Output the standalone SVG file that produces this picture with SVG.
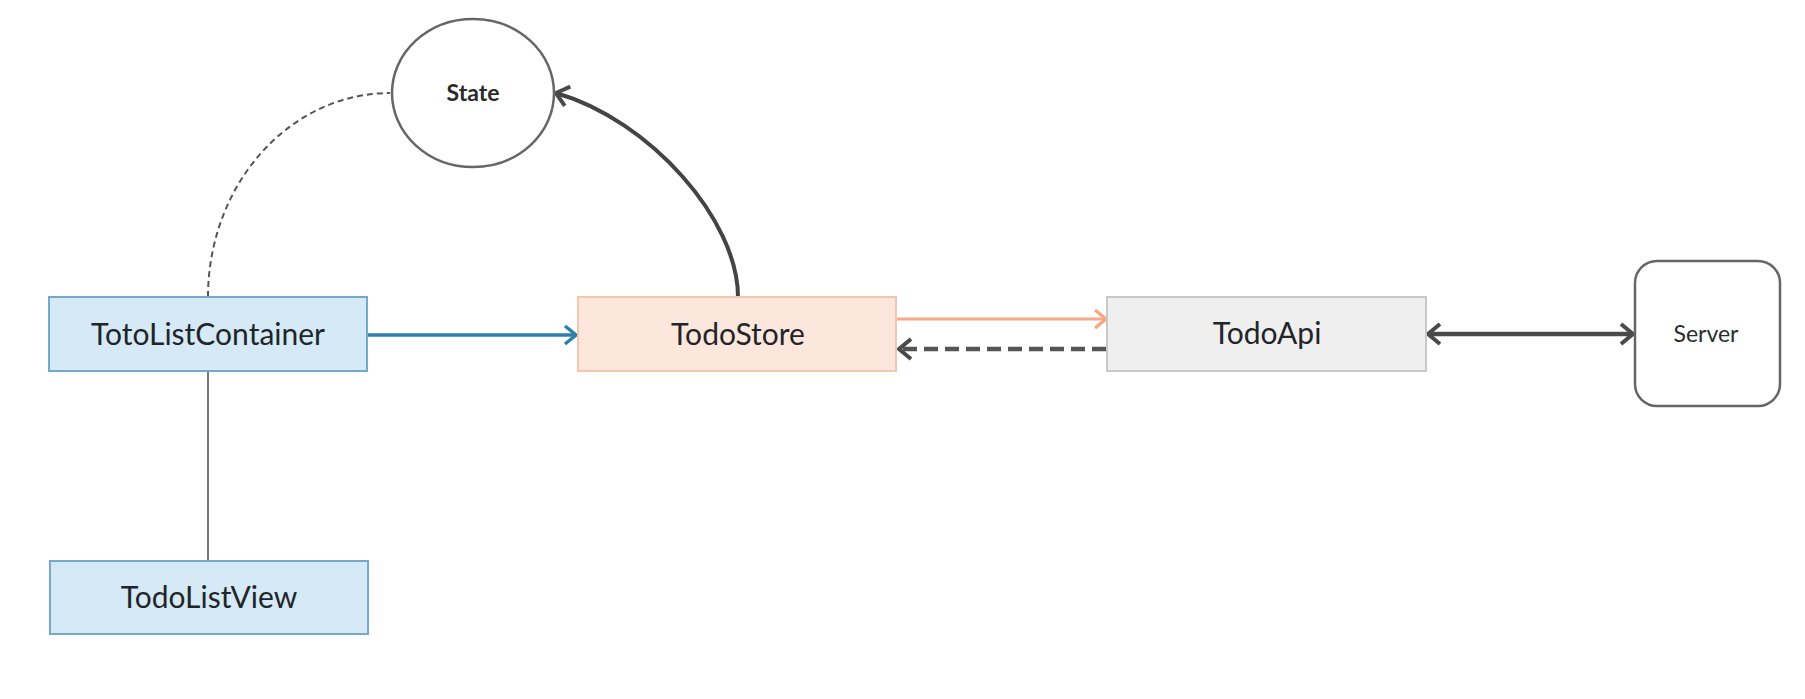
<svg xmlns="http://www.w3.org/2000/svg" width="1805" height="699" viewBox="0 0 1805 699">
<style>
.lbl{font-family:Lato,"Open Sans","Liberation Sans",sans-serif;font-size:30px;fill:#1f2529;text-anchor:middle}
.small{font-size:23px;fill:#2b2b2b}
.blue{fill:#d5e9f6;stroke:#74a9cc;stroke-width:2}
.peach{fill:#fde7dc;stroke:#f3c6ae;stroke-width:2}
.grey{fill:#efefef;stroke:#c8c8c8;stroke-width:2}
.plain{fill:#ffffff;stroke:#666;stroke-width:2.5}
.conn{fill:none}
</style>
<defs>
<marker id="mBlue" markerWidth="24" markerHeight="24" refX="20" refY="12" orient="auto" markerUnits="userSpaceOnUse"><path d="M9,3 L20,12 L9,21" fill="none" stroke="#2f7fae" stroke-width="3.5"/></marker>
<marker id="mOrange" markerWidth="24" markerHeight="24" refX="20" refY="12" orient="auto" markerUnits="userSpaceOnUse"><path d="M9,3 L20,12 L9,21" fill="none" stroke="#f4a988" stroke-width="3.5"/></marker>
<marker id="mDark" markerWidth="26" markerHeight="26" refX="21" refY="13" orient="auto-start-reverse" markerUnits="userSpaceOnUse"><path d="M9,3 L21,13 L9,23" fill="none" stroke="#4a4a4a" stroke-width="4"/></marker>
</defs>
<rect width="1805" height="699" fill="#ffffff"/>
<g id="connectors" class="conn">
<path d="M208,297 A182,204 0 0 1 390,93" stroke="#555" stroke-width="2" stroke-dasharray="6 4"/>
<path d="M738,297 C738,220 650,120 556,93" stroke="#444" stroke-width="4" marker-end="url(#mDark)"/>
<line x1="208" y1="371" x2="208" y2="561" stroke="#777" stroke-width="2"/>
<line x1="368" y1="335" x2="576" y2="335" stroke="#2f7fae" stroke-width="3.5" marker-end="url(#mBlue)"/>
<line x1="897" y1="319" x2="1106" y2="319" stroke="#f4a988" stroke-width="3" marker-end="url(#mOrange)"/>
<line x1="1106" y1="349" x2="899" y2="349" stroke="#555" stroke-width="4.5" stroke-dasharray="14 7" marker-end="url(#mDark)"/>
<line x1="1428" y1="334" x2="1633" y2="334" stroke="#4a4a4a" stroke-width="4.5" marker-start="url(#mDark)" marker-end="url(#mDark)"/>
</g>
<g id="state">
<ellipse cx="473" cy="93" rx="81" ry="74" class="plain"/>
<text x="473" y="101" class="lbl small" font-weight="bold">State</text>
</g>
<g id="totoListContainer">
<rect x="49" y="297" width="318" height="74" class="blue"/>
<text x="208" y="345" class="lbl">TotoListContainer</text>
</g>
<g id="todoListView">
<rect x="50" y="561" width="318" height="73" class="blue"/>
<text x="209" y="608" class="lbl">TodoListView</text>
</g>
<g id="todoStore">
<rect x="578" y="297" width="318" height="74" class="peach"/>
<text x="738" y="345" class="lbl">TodoStore</text>
</g>
<g id="todoApi">
<rect x="1107" y="297" width="319" height="74" class="grey"/>
<text x="1267" y="344" class="lbl">TodoApi</text>
</g>
<g id="server">
<rect x="1635" y="261" width="145" height="145" rx="22" ry="22" class="plain"/>
<text x="1706" y="342" class="lbl small">Server</text>
</g>
</svg>
